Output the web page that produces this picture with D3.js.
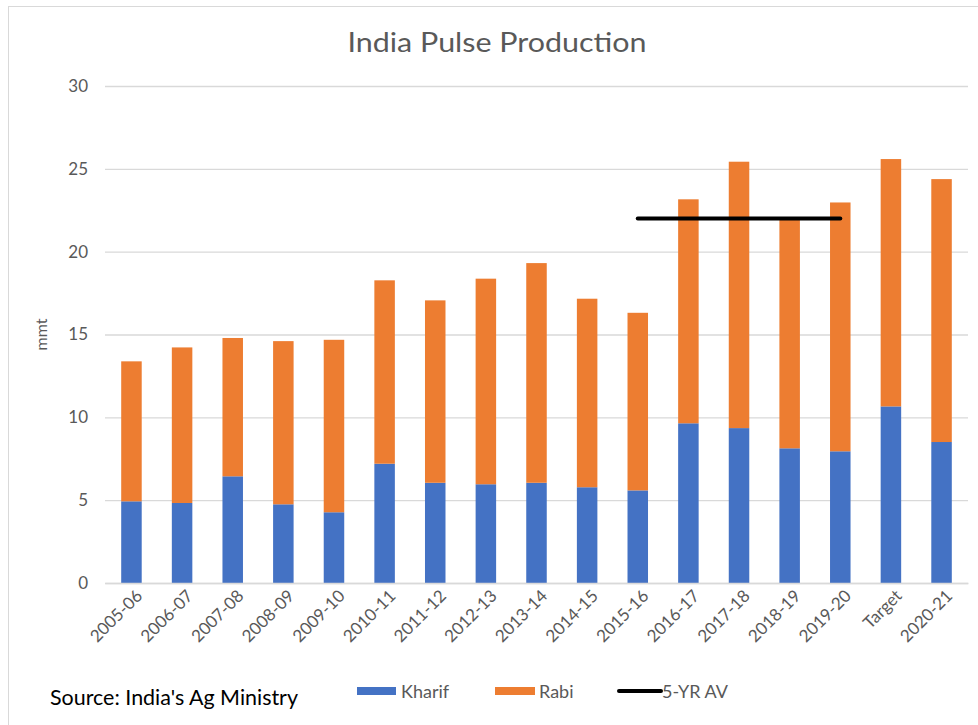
<!DOCTYPE html>
<html>
<head>
<meta charset="utf-8">
<script src="https://cdn.jsdelivr.net/npm/d3@7"></script>
<style>
  html, body { margin: 0; padding: 0; background: #fff; }
  svg { display: block; }
</style>
</head>
<body>
<div id="chart"></div>
<script>
const categories = ['2005-06', '2006-07', '2007-08', '2008-09', '2009-10', '2010-11', '2011-12', '2012-13',
  '2013-14', '2014-15', '2015-16', '2016-17', '2017-18', '2018-19', '2019-20', 'Target', '2020-21'];
const kharif = [4.93, 4.83, 6.44, 4.75, 4.27, 7.20, 6.05, 5.96, 6.05, 5.78, 5.59, 9.64, 9.35, 8.13, 7.95, 10.66, 8.51];
const rabi = [8.45, 9.39, 8.35, 9.85, 10.41, 11.07, 11.01, 12.41, 13.26, 11.38, 10.72, 13.52, 16.08, 13.82, 15.02, 14.93, 15.87];
const avgCategories = ['2015-16', '2016-17', '2017-18', '2018-19', '2019-20'];
const avgValues = [22, 22, 22, 22, 22];
const yTicks = [0, 5, 10, 15, 20, 25, 30];

const W = 978, H = 725;
const margin = { top: 86, right: 10, bottom: 142, left: 105 };
const plotW = 968 - margin.left;
const plotH = 583 - margin.top;

const blue = '#4472c4', orange = '#ed7d31', grey = '#595959', grid = '#d9d9d9';
const font = 'Lato, "Open Sans", sans-serif';

const svg = d3.select('#chart').append('svg')
  .attr('width', W)
  .attr('height', H);

// chart area border
svg.append('rect')
  .attr('x', 8.5).attr('y', 6.5)
  .attr('width', 1100).attr('height', 900)
  .attr('fill', '#fff')
  .attr('stroke', grid);

svg.append('text')
  .attr('x', 497).attr('y', 52)
  .attr('text-anchor', 'middle')
  .attr('font-family', font)
  .attr('font-size', 27)
  .attr('fill', grey)
  .attr('textLength', 299)
  .attr('lengthAdjust', 'spacingAndGlyphs')
  .text('India Pulse Production');

const g = svg.append('g')
  .attr('transform', `translate(${margin.left},${margin.top})`);

const x = d3.scaleBand()
  .domain(categories)
  .range([0, plotW])
  .paddingInner(0.595)
  .paddingOuter(0.32);

const y = d3.scaleLinear()
  .domain([0, 30])
  .range([plotH, 0]);

// gridlines + y labels
const yAxis = g.append('g')
  .call(d3.axisLeft(y).tickValues(yTicks).tickSize(-plotW).tickPadding(17));
yAxis.select('.domain').remove();
yAxis.selectAll('.tick line').attr('stroke', grid).attr('stroke-width', 1.3);
yAxis.selectAll('.tick text')
  .attr('font-family', font)
  .attr('font-size', 17)
  .attr('fill', grey);

svg.append('text')
  .attr('transform', `translate(47,${margin.top + y(15)}) rotate(-90)`)
  .attr('text-anchor', 'middle')
  .attr('font-family', font)
  .attr('font-size', 16)
  .attr('fill', grey)
  .text('mmt');

const stacked = d3.stack().keys(['kharif', 'rabi'])(
  categories.map((c, i) => ({ cat: c, kharif: kharif[i], rabi: rabi[i] })));
const colors = { kharif: blue, rabi: orange };

g.selectAll('.series')
  .data(stacked)
  .enter()
  .append('g')
  .attr('class', 'series')
  .attr('fill', d => colors[d.key])
  .selectAll('rect')
  .data(d => d)
  .enter()
  .append('rect')
  .attr('x', d => x(d.data.cat))
  .attr('y', d => y(d[1]))
  .attr('width', x.bandwidth())
  .attr('height', d => y(d[0]) - y(d[1]));

// x axis
const xAxis = g.append('g')
  .attr('transform', `translate(0,${plotH})`)
  .call(d3.axisBottom(x).tickSize(0).tickPadding(0));
xAxis.select('.domain').attr('stroke', grid).attr('stroke-width', 1.3);
xAxis.selectAll('.tick text')
  .attr('font-family', font)
  .attr('font-size', 17)
  .attr('fill', grey)
  .attr('text-anchor', 'end')
  .attr('dy', 0)
  .attr('transform', 'translate(12,14) rotate(-45)');

// 5-yr average
const line = d3.line()
  .x(d => x(d.cat) + x.bandwidth() / 2)
  .y(d => y(d.v));
g.append('path')
  .datum(avgCategories.map((c, i) => ({ cat: c, v: avgValues[i] })))
  .attr('d', line)
  .attr('fill', 'none')
  .attr('stroke', '#000')
  .attr('stroke-width', 4)
  .attr('stroke-linecap', 'round');

// legend
const legend = svg.append('g').attr('font-family', font).attr('font-size', 18).attr('fill', grey);
legend.append('rect').attr('x', 357).attr('y', 687).attr('width', 39).attr('height', 8).attr('fill', blue);
legend.append('text').attr('x', 401).attr('y', 698).text('Kharif');
legend.append('rect').attr('x', 495).attr('y', 687).attr('width', 40).attr('height', 8).attr('fill', orange);
legend.append('text').attr('x', 539).attr('y', 698).text('Rabi');
legend.append('line').attr('x1', 619).attr('x2', 661).attr('y1', 691).attr('y2', 691)
  .attr('stroke', '#000').attr('stroke-width', 4).attr('stroke-linecap', 'round');
legend.append('text').attr('x', 662).attr('y', 698).text('5-YR AV');

svg.append('text')
  .attr('x', 50).attr('y', 705)
  .attr('font-family', font)
  .attr('font-size', 21)
  .attr('fill', '#000')
  .attr('textLength', 248)
  .attr('lengthAdjust', 'spacingAndGlyphs')
  .text("Source: India's Ag Ministry");
</script>
</body>
</html>
